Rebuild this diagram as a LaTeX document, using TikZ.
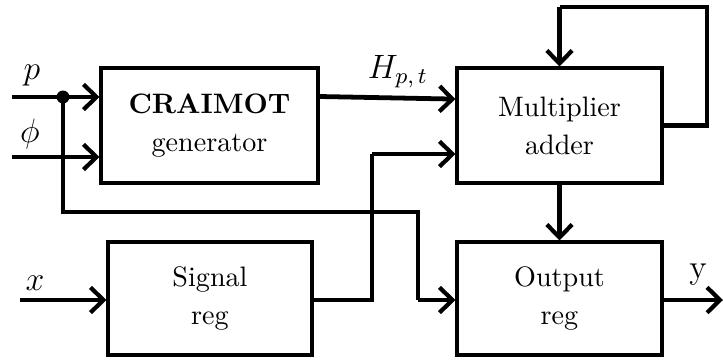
\documentclass[tikz,border=0pt]{standalone}
\usetikzlibrary{arrows.meta}
\begin{document}
\begin{tikzpicture}[x=0.0125cm,y=-0.0125cm,
  blockbox/.style={draw,line width=1.1pt,rectangle,align=center,inner sep=0pt,
    font=\fontsize{10}{13.5}\selectfont},
  conn/.style={line width=1.7pt,-{Straight Barb[length=4.6pt,width=9pt,line width=1.5pt]}},
  wire/.style={line width=1.7pt},
  lbl/.style={inner sep=0pt,font=\fontsize{12}{14}\selectfont}]
\useasboundingbox (0,0) rectangle (723,363);

% blocks
\node[blockbox,minimum width=2.7125cm,minimum height=1.4375cm] (gen) at (209.5,125.5)
  {\textbf{CRAIMOT}\\generator};
\node[blockbox,minimum width=2.5625cm,minimum height=1.4375cm] (mac) at (559.5,125.5)
  {Multiplier\\adder};
\node[blockbox,minimum width=2.55cm,minimum height=1.4125cm] (sig) at (210,298.5)
  {Signal\\reg};
\node[blockbox,minimum width=2.5625cm,minimum height=1.4125cm] (outr) at (559.5,298.5)
  {Output\\reg};

% free ends and bends
\coordinate (pin) at (12,97);
\coordinate (phiin) at (12,157);
\coordinate (xin) at (20,300);
\coordinate (yout) at (723,300);
\coordinate (tap) at (63,97);
\coordinate (tapdown) at (63,212);
\coordinate (tapright) at (418,212);
\coordinate (tapturn) at (418,300);
\coordinate (sigup) at (372,300);
\coordinate (sigtop) at (372,154);
\coordinate (fbr) at (707,125.5);
\coordinate (fbtr) at (707,7);
\coordinate (fbtl) at (559.5,7);

% inputs
\draw[conn] (pin) -- (pin -| gen.west);
\draw[conn] (phiin) -- (phiin -| gen.west);
\draw[conn] (xin) -- (xin -| sig.west);
\fill (tap) circle (2.3pt);

% tap of p to the output register
\draw[wire,line join=miter] (tap) -- (tapdown) -- (tapright) -- (tapturn);
\draw[conn] (tapturn) -- (tapturn -| outr.west);

% generator to multiplier
\draw[conn] ([yshift=0.3625cm]gen.east) -- ([yshift=0.33cm]mac.west);

% signal register to multiplier
\draw[wire] (sig.east |- sigup) -- (sigup) -- (sigtop);
\draw[conn] (sigtop) -- (sigtop -| mac.west);

% feedback loop
\draw[wire] (mac.east) -- (fbr) -- (fbtr) -- (fbtl);
\draw[conn] (fbtl) -- (mac.north);

% multiplier to output register
\draw[conn] (mac.south) -- (outr.north);

% output
\draw[conn] (outr.east |- yout) -- (yout);

% labels
\node[lbl] (lp) at (32,76) {$p$};
\node[lbl] (lphi) at (30,134) {$\phi$};
\node[lbl] (lx) at (35,283) {$x$};
\node[lbl] (ly) at (698,275) {y};
\node[lbl] (lh) at (398,72) {$H_{p,\,t}$};
\end{tikzpicture}
\end{document}
